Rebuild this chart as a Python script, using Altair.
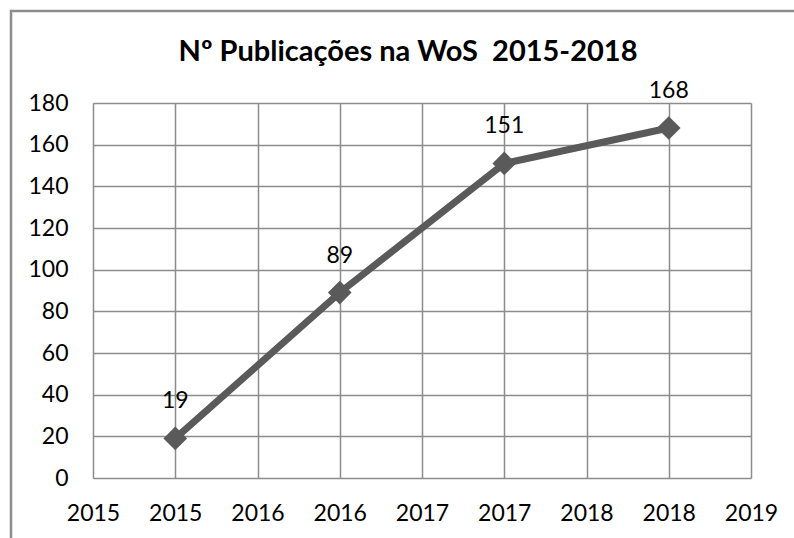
import altair as alt
import pandas as pd

years = [2015, 2016, 2017, 2018]
pubs = [19, 89, 151, 168]
x_ticks = [2014.5, 2015, 2015.5, 2016, 2016.5, 2017, 2017.5, 2018, 2018.5]
y_ticks = [0, 20, 40, 60, 80, 100, 120, 140, 160, 180]
title_text = "Nº Publicações na WoS\u00a0 2015-2018"

df = pd.DataFrame({"year": years, "pubs": pubs})
FONT = "Lato"
GRID = "#8c8c8c"
LINE = "#5a5a5a"
FS = 23

xenc = alt.X(
    "year:Q",
    scale=alt.Scale(domain=[2014.5, 2018.5], nice=False, zero=False),
    axis=alt.Axis(values=x_ticks, labelExpr="format(round(datum.value), 'd')",
                  title=None, grid=True, gridColor=GRID, gridWidth=1.5,
                  domain=False, ticks=False, labelPadding=24, labelFontSize=FS,
                  labelFont=FONT, labelColor="black", labelAlign="center"),
)
yenc = alt.Y(
    "pubs:Q",
    scale=alt.Scale(domain=[0, 180], nice=False),
    axis=alt.Axis(values=y_ticks, title=None, grid=True, gridColor=GRID, gridWidth=1.5,
                  domain=False, ticks=False, labelPadding=25, labelFontSize=FS,
                  labelFont=FONT, labelColor="black"),
)

base = alt.Chart(df).encode(x=xenc, y=yenc)
line = base.mark_line(color=LINE, strokeWidth=7)
pts = base.mark_point(shape="diamond", filled=True, size=560, color=LINE, opacity=1)
labels = base.mark_text(dy=-37, fontSize=FS, font=FONT, color="black").encode(text="pubs:Q")

frame = alt.Chart(pd.DataFrame({"a": [0]})).mark_rect(
    fillOpacity=0, stroke=GRID, strokeWidth=2.5
).encode(x=alt.value(-82), x2=alt.value(900), y=alt.value(-92), y2=alt.value(700))

chart = alt.layer(frame, line, pts, labels).properties(
    width=658, height=375,
    title=alt.TitleParams(title_text, font=FONT, fontSize=29, fontWeight="bold",
                          color="black", anchor="middle", dx=-14, offset=-57),
    autosize=alt.AutoSizeParams(type="none"),
    padding={"left": 93, "top": 103, "right": 43, "bottom": 60},
).configure_view(fill="#e6e6e6", stroke=GRID, strokeWidth=1.5).configure(background="white")

chart.save("out.html", embed_options={"renderer": "svg", "actions": False})
